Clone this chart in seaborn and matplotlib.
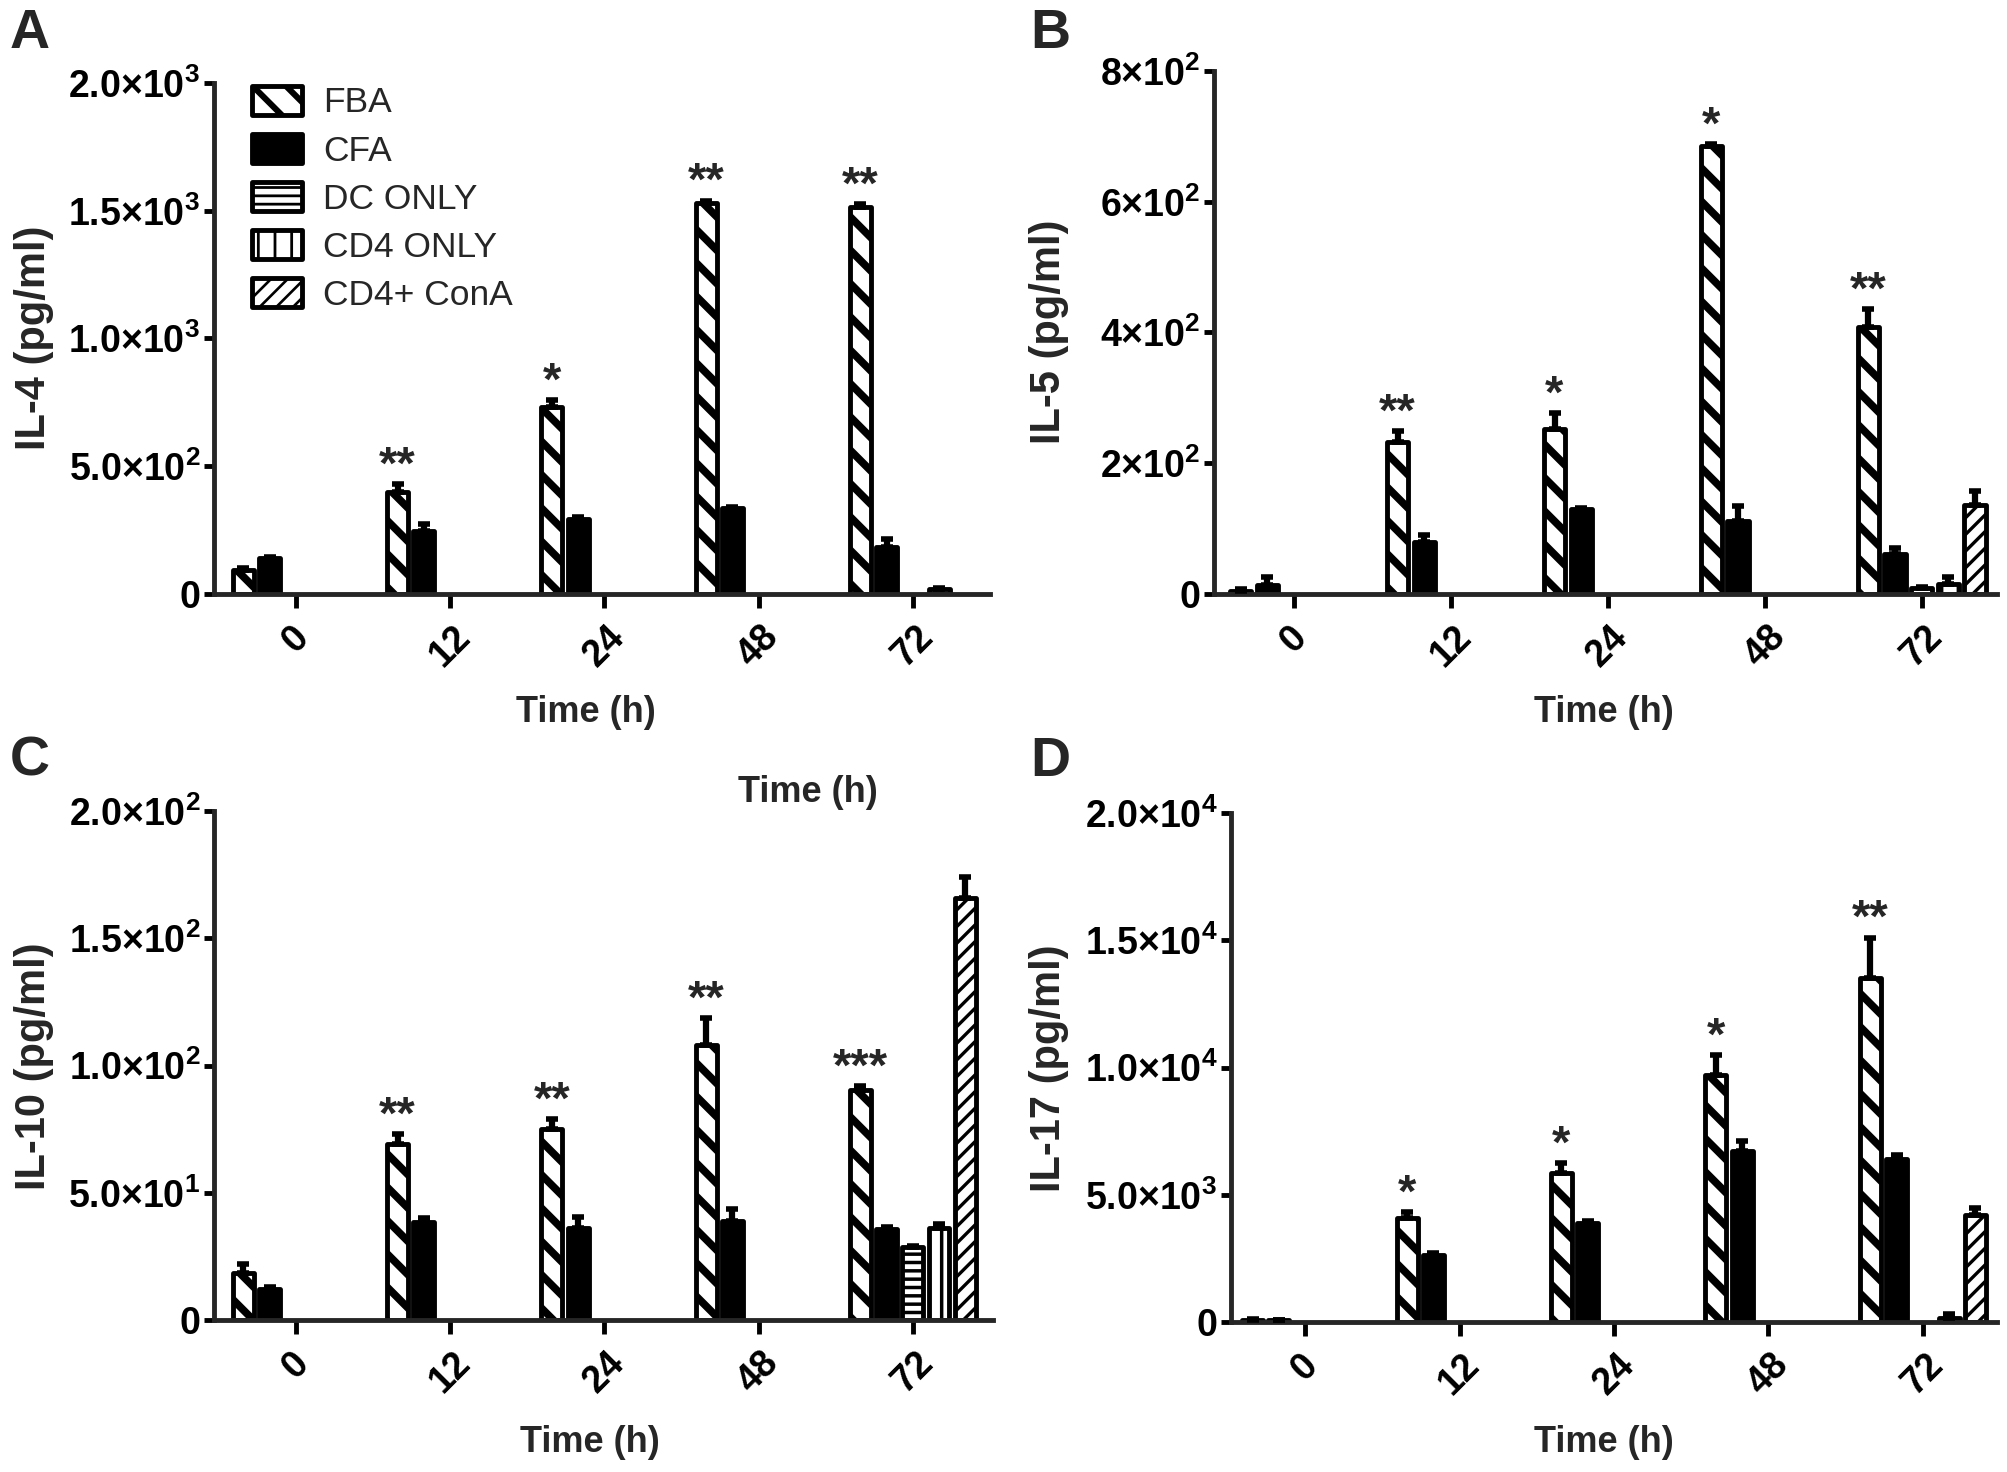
import matplotlib
matplotlib.use('Agg')
import matplotlib.pyplot as plt
import matplotlib.colors as mcolors
from matplotlib.patches import Patch
import pandas as pd
import seaborn as sns

sns.set_style('ticks')
plt.rcParams['font.family'] = ['Liberation Sans', 'DejaVu Sans']
plt.rcParams['mathtext.fontset'] = 'custom'
plt.rcParams['mathtext.rm'] = 'Liberation Sans:bold'
plt.rcParams['mathtext.bf'] = 'Liberation Sans:bold'
plt.rcParams['mathtext.it'] = 'Liberation Sans:bold'
plt.rcParams['hatch.linewidth'] = 3.0

############ data ############

times = ['0', '12', '24', '48', '72']
groups = ['FBA', 'CFA', 'DC ONLY', 'CD4 ONLY', 'CD4+ ConA']

# IL-4 (pg/ml)
il4_fba = [95, 400, 730, 1530, 1515]
il4_fba_err = [5, 30, 30, 10, 10]
il4_cfa = [140, 245, 295, 335, 185]
il4_cfa_err = [5, 30, 5, 5, 30]
il4_dc = [None, None, None, None, None]
il4_dc_err = [None, None, None, None, None]
il4_cd4 = [None, None, None, None, 20]
il4_cd4_err = [None, None, None, None, 3]
il4_cona = [None, None, None, None, None]
il4_cona_err = [None, None, None, None, None]
il4_stars = ['', '**', '*', '**', '**']

# IL-5 (pg/ml)
il5_fba = [5, 232, 252, 685, 409]
il5_fba_err = [3, 17, 25, 3, 27]
il5_cfa = [14, 80, 130, 111, 61]
il5_cfa_err = [12, 10, 2, 24, 10]
il5_dc = [None, None, None, None, 9]
il5_dc_err = [None, None, None, None, 2]
il5_cd4 = [None, None, None, None, 16]
il5_cd4_err = [None, None, None, None, 10]
il5_cona = [None, None, None, None, 136]
il5_cona_err = [None, None, None, None, 22]
il5_stars = ['', '**', '*', '*', '**']

# IL-10 (pg/ml)
il10_fba = [18.4, 69, 75, 108, 90.3]
il10_fba_err = [3.5, 4, 4, 10.5, 1.5]
il10_cfa = [12, 38.5, 36.3, 39, 35.6]
il10_cfa_err = [1, 1.5, 4, 4.5, 1]
il10_dc = [None, None, None, None, 28.6]
il10_dc_err = [None, None, None, None, 0.5]
il10_cd4 = [None, None, None, None, 36.3]
il10_cd4_err = [None, None, None, None, 1.5]
il10_cona = [None, None, None, None, 166]
il10_cona_err = [None, None, None, None, 8]
il10_stars = ['', '**', '**', '**', '***']

# IL-17 (pg/ml)
il17_fba = [90, 4100, 5850, 9700, 13500]
il17_fba_err = [20, 220, 400, 780, 1600]
il17_cfa = [70, 2650, 3900, 6700, 6400]
il17_cfa_err = [20, 60, 80, 420, 150]
il17_dc = [None, None, None, None, None]
il17_dc_err = [None, None, None, None, None]
il17_cd4 = [None, None, None, None, 150]
il17_cd4_err = [None, None, None, None, 150]
il17_cona = [None, None, None, None, 4200]
il17_cona_err = [None, None, None, None, 280]
il17_stars = ['', '*', '*', '*', '**']

il4_yticks = [0, 500, 1000, 1500, 2000]
il4_yticklabels = ['0', r'$5.0{\times}10^{2}$', r'$1.0{\times}10^{3}$', r'$1.5{\times}10^{3}$', r'$2.0{\times}10^{3}$']
il5_yticks = [0, 200, 400, 600, 800]
il5_yticklabels = ['0', r'$2{\times}10^{2}$', r'$4{\times}10^{2}$', r'$6{\times}10^{2}$', r'$8{\times}10^{2}$']
il10_yticks = [0, 50, 100, 150, 200]
il10_yticklabels = ['0', r'$5.0{\times}10^{1}$', r'$1.0{\times}10^{2}$', r'$1.5{\times}10^{2}$', r'$2.0{\times}10^{2}$']
il17_yticks = [0, 5000, 10000, 15000, 20000]
il17_yticklabels = ['0', r'$5.0{\times}10^{3}$', r'$1.0{\times}10^{4}$', r'$1.5{\times}10^{4}$', r'$2.0{\times}10^{4}$']

############ styles / layout ############

key_colors = {'FBA': '#ff0000', 'CFA': '#00ff00', 'DC ONLY': '#0000ff',
              'CD4 ONLY': '#ffff00', 'CD4+ ConA': '#00ffff'}
color_to_group = {mcolors.to_hex(c): g for g, c in key_colors.items()}

styles = {
    'FBA':       dict(face='white', hatch='\\', hlw=5.5),
    'CFA':       dict(face='black', hatch='', hlw=1.0),
    'DC ONLY':   dict(face='white', hatch='--', hlw=2.5),
    'CD4 ONLY':  dict(face='white', hatch='|', hlw=2.5),
    'CD4+ ConA': dict(face='white', hatch='//', hlw=2.4),
}

W, H = 2008, 1472


def px_rect(left, right, top, bottom):
    return [left / W, 1 - bottom / H, (right - left) / W, (bottom - top) / H]


def long_table(means, errs):
    rows = []
    for g in groups:
        for t, m, e in zip(times, means[g], errs[g]):
            if m is not None:
                rows.append(dict(time=t, group=g, value=m, err=e))
    return pd.DataFrame(rows)


panels = [
    dict(letter='A', ylabel='IL-4 (pg/ml)',
         means={'FBA': il4_fba, 'CFA': il4_cfa, 'DC ONLY': il4_dc, 'CD4 ONLY': il4_cd4, 'CD4+ ConA': il4_cona},
         errs={'FBA': il4_fba_err, 'CFA': il4_cfa_err, 'DC ONLY': il4_dc_err, 'CD4 ONLY': il4_cd4_err, 'CD4+ ConA': il4_cona_err},
         stars=il4_stars, yticks=il4_yticks, yticklabels=il4_yticklabels,
         rect=px_rect(214, 990, 83, 594), xlim=(-0.53, 4.5),
         ylab_xy=(34, 338), xlab_xy=(586, 712), letter_xy=(10, 8)),
    dict(letter='B', ylabel='IL-5 (pg/ml)',
         means={'FBA': il5_fba, 'CFA': il5_cfa, 'DC ONLY': il5_dc, 'CD4 ONLY': il5_cd4, 'CD4+ ConA': il5_cona},
         errs={'FBA': il5_fba_err, 'CFA': il5_cfa_err, 'DC ONLY': il5_dc_err, 'CD4 ONLY': il5_cd4_err, 'CD4+ ConA': il5_cona_err},
         stars=il5_stars, yticks=il5_yticks, yticklabels=il5_yticklabels,
         rect=px_rect(1214, 1997, 71, 594), xlim=(-0.51, 4.48),
         ylab_xy=(1049, 332), xlab_xy=(1604, 712), letter_xy=(1030, 8)),
    dict(letter='C', ylabel='IL-10 (pg/ml)',
         means={'FBA': il10_fba, 'CFA': il10_cfa, 'DC ONLY': il10_dc, 'CD4 ONLY': il10_cd4, 'CD4+ ConA': il10_cona},
         errs={'FBA': il10_fba_err, 'CFA': il10_cfa_err, 'DC ONLY': il10_dc_err, 'CD4 ONLY': il10_cd4_err, 'CD4+ ConA': il10_cona_err},
         stars=il10_stars, yticks=il10_yticks, yticklabels=il10_yticklabels,
         rect=px_rect(214, 993, 811, 1320), xlim=(-0.53, 4.52),
         ylab_xy=(34, 1066), xlab_xy=(590, 1442), letter_xy=(10, 736)),
    dict(letter='D', ylabel='IL-17 (pg/ml)',
         means={'FBA': il17_fba, 'CFA': il17_cfa, 'DC ONLY': il17_dc, 'CD4 ONLY': il17_cd4, 'CD4+ ConA': il17_cona},
         errs={'FBA': il17_fba_err, 'CFA': il17_cfa_err, 'DC ONLY': il17_dc_err, 'CD4 ONLY': il17_cd4_err, 'CD4+ ConA': il17_cona_err},
         stars=il17_stars, yticks=il17_yticks, yticklabels=il17_yticklabels,
         rect=px_rect(1231, 1997, 813, 1322), xlim=(-0.48, 4.48),
         ylab_xy=(1049, 1068), xlab_xy=(1604, 1442), letter_xy=(1030, 736)),
]

fig = plt.figure(figsize=(W / 100, H / 100), dpi=100)

for p in panels:
    ax = fig.add_axes(p['rect'])
    df = long_table(p['means'], p['errs'])

    sns.barplot(data=df, x='time', y='value', hue='group', order=times, hue_order=groups,
                palette=key_colors, saturation=1, width=0.85, gap=0.2, errorbar=None,
                legend=False, edgecolor='black', linewidth=3.5, ax=ax)

    for bar in list(ax.patches):
        g = color_to_group[mcolors.to_hex(bar.get_facecolor())]
        st = styles[g]
        bar.set_facecolor(st['face'])
        bar.set_hatch(st['hatch'])
        bar.set_joinstyle('round')
        if hasattr(bar, 'set_hatch_linewidth'):
            bar.set_hatch_linewidth(st['hlw'])

        xc = bar.get_x() + bar.get_width() / 2
        ti = int(round(xc))
        h = bar.get_height()
        e = df[(df.group == g) & (df.time == times[ti])].err.iloc[0]
        ax.errorbar(xc, h, yerr=[[0], [e]], fmt='none', ecolor='black',
                    elinewidth=4.5, capsize=4, capthick=4, zorder=5)
        if g == 'FBA' and p['stars'][ti]:
            ax.annotate(p['stars'][ti], (xc, h + e), xytext=(0, 4), textcoords='offset points',
                        ha='center', va='baseline', fontsize=34, fontweight='bold')

    ax.set_xlim(*p['xlim'])
    ax.set_ylim(0, p['yticks'][-1])
    ax.set_yticks(p['yticks'])
    ax.set_yticklabels(p['yticklabels'], fontsize=27, fontweight='bold')
    ax.set_xticks(range(len(times)))
    ax.set_xticklabels(times, rotation=45, ha='center', fontsize=27, fontweight='bold')
    ax.set_xlabel('')
    ax.set_ylabel('')
    sns.despine(ax=ax)
    for side in ['left', 'bottom']:
        ax.spines[side].set_linewidth(3.5)
    ax.tick_params(axis='y', width=3.5, length=7, pad=3, colors='black')
    ax.tick_params(axis='x', width=3.5, length=10, pad=8, colors='black')

    fig.text(p['ylab_xy'][0] / W, 1 - p['ylab_xy'][1] / H, p['ylabel'], rotation=90,
             ha='center', va='center', fontsize=30, fontweight='bold')
    fig.text(p['xlab_xy'][0] / W, 1 - p['xlab_xy'][1] / H, 'Time (h)',
             ha='center', va='center', fontsize=26, fontweight='bold')
    fig.text(p['letter_xy'][0] / W, 1 - p['letter_xy'][1] / H, p['letter'],
             ha='left', va='top', fontsize=40, fontweight='bold')

    if p['letter'] == 'A':
        handles = [Patch(facecolor=styles[g]['face'], edgecolor='black', hatch=styles[g]['hatch'],
                         linewidth=3.5, label=g) for g in groups]
        leg = ax.legend(handles=handles, loc='upper left', bbox_to_anchor=(0.049, 0.995),
                        frameon=False, borderpad=0, borderaxespad=0, fontsize=25.5,
                        handlelength=1.4, handleheight=0.9, handletextpad=0.6, labelspacing=0.4)
        for lp, g in zip(leg.get_patches(), groups):
            lp.set_joinstyle('round')
            if hasattr(lp, 'set_hatch_linewidth'):
                lp.set_hatch_linewidth(styles[g]['hlw'] * 0.8)

# stray axis title that sits inside panel C of the original figure
fig.text(808 / W, 1 - 793 / H, 'Time (h)', ha='center', va='center', fontsize=26, fontweight='bold')

fig.savefig('out.png', dpi=100, facecolor='white')
